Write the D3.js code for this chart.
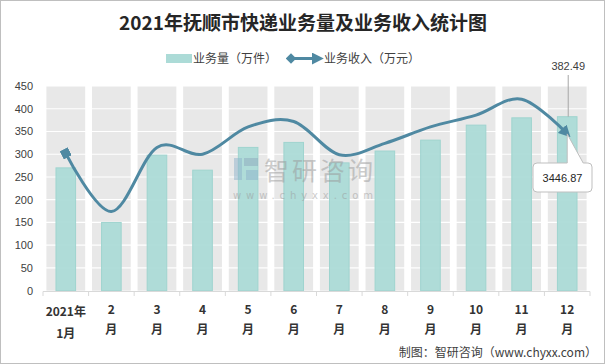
<!DOCTYPE html>
<html><head><meta charset="utf-8">
<script src="https://cdn.jsdelivr.net/npm/d3@7"></script>
<style>body{margin:0;background:#fff}svg{display:block}</style>
</head><body>
<svg id="c" width="605" height="364"></svg>
<script>
const categories = ["1","2","3","4","5","6","7","8","9","10","11","12"];
const labelTop = ["2021年","2","3","4","5","6","7","8","9","10","11","12"];
const labelBottom = ["1月","月","月","月","月","月","月","月","月","月","月","月"];
const volume = [270,150,298,265,315,326,281,307,331,364,380,382.49];
const revenue = [3020,1740,3150,3000,3600,3720,2990,3240,3600,3860,4210,3446.87];
const yTicks = [0,50,100,150,200,250,300,350,400,450];

const svg = d3.select("#c");
const W=605,H=364;
svg.append("rect").attr("x",0.5).attr("y",0.5).attr("width",W-1).attr("height",H-1).attr("fill","#fff").attr("stroke","#bfbfbf");

const x = d3.scaleBand().domain(categories).range([43,590]);
const y = d3.scaleLinear().domain([0,450]).range([290.7,86]);
const y2 = d3.scaleLinear().domain([0,4500]).range([290.7,86]);
const bw = x.bandwidth();

// gray bands
svg.append("g").selectAll("rect").data(categories).join("rect")
  .attr("x",d=>x(d)+bw*0.075).attr("width",bw*0.85)
  .attr("y",y(450)).attr("height",y(0)-y(450)).attr("fill","#e8e8e8");
// white gridlines
svg.append("g").selectAll("line").data(yTicks.slice(1)).join("line")
  .attr("x1",43).attr("x2",590).attr("y1",d=>y(d)).attr("y2",d=>y(d))
  .attr("stroke","#fff").attr("stroke-width",1.2);

// y axis labels
svg.append("g").selectAll("text").data(yTicks).join("text")
  .attr("x",33).attr("y",d=>y(d)+4).attr("text-anchor","end")
  .attr("font-family","Liberation Sans, Arial, sans-serif").attr("font-size",11).attr("fill","#404040")
  .text(d=>d);

// bars
svg.append("g").selectAll("rect").data(volume).join("rect")
  .attr("x",(d,i)=>x(categories[i])+bw/2-bw*0.215).attr("width",bw*0.43)
  .attr("y",d=>y(d)).attr("height",d=>y(0)-y(d))
  .attr("fill","#acdbd7").attr("fill-opacity",0.95).attr("stroke","#9fd4cf").attr("stroke-width",1);

// watermark
const wm = svg.append("g").attr("opacity",0.5);
wm.append("rect").attr("x",234).attr("y",158).attr("width",8).attr("height",22).attr("fill","#8fb3cc");
wm.append("rect").attr("x",244).attr("y",158).attr("width",14).attr("height",8).attr("fill","#8fa9bd");
wm.append("rect").attr("x",246).attr("y",170).attr("width",12).attr("height",10).attr("fill","#8fb3cc");
wm.append("text").attr("x",264).attr("y",180).attr("font-family","Noto Sans CJK SC").attr("font-size",25)
  .attr("fill","#9a9a9a").attr("letter-spacing",3).text("智研咨询");
wm.append("text").attr("x",233).attr("y",199).attr("font-family","DejaVu Sans, sans-serif").attr("font-size",10)
  .attr("fill","#9a9a9a").attr("textLength",140).text("www.chyxx.com");

// x axis
svg.append("line").attr("x1",43).attr("x2",590).attr("y1",291.5).attr("y2",291.5).attr("stroke","#d9d9d9");
svg.append("g").selectAll("line").data(d3.range(13)).join("line")
  .attr("x1",i=>43+i*bw).attr("x2",i=>43+i*bw).attr("y1",291.5).attr("y2",296).attr("stroke","#d9d9d9");
const xl = svg.append("g").attr("font-family","Noto Sans CJK SC, sans-serif").attr("font-weight","bold")
  .attr("font-size",12).attr("fill","#333").attr("text-anchor","middle");
xl.selectAll("text.t").data(labelTop).join("text").attr("class","t")
  .attr("x",(d,i)=>x(categories[i])+bw/2).attr("y",(d,i)=>i===0?316:314).text(d=>d);
xl.selectAll("text.b").data(labelBottom).join("text").attr("class","b")
  .attr("x",(d,i)=>x(categories[i])+bw/2).attr("y",(d,i)=>i===0?338:334).text(d=>d);

// line
const defs = svg.append("defs");
const lc = "#4f89a2";
defs.append("marker").attr("id","arr").attr("viewBox","0 0 10 10").attr("refX",6).attr("refY",5)
  .attr("markerWidth",4).attr("markerHeight",4).attr("orient","auto")
  .append("path").attr("d","M0,0 L10,5 L0,10 Z").attr("fill",lc);
defs.append("marker").attr("id","sq").attr("viewBox","0 0 10 10").attr("refX",5).attr("refY",5)
  .attr("markerWidth",3).attr("markerHeight",3).attr("orient","auto")
  .append("rect").attr("x",0).attr("y",0).attr("width",10).attr("height",10).attr("fill",lc);
defs.append("marker").attr("id","dia").attr("viewBox","0 0 10 10").attr("refX",5).attr("refY",5)
  .attr("markerWidth",3.5).attr("markerHeight",3.5).attr("orient","auto")
  .append("path").attr("d","M0,5 L5,0 L10,5 L5,10 Z").attr("fill",lc);
const pts = revenue.map((v,i)=>[x(categories[i])+bw/2, y2(v)]);
svg.append("path").attr("d",d3.line().curve(d3.curveCardinal.tension(0))(pts))
  .attr("fill","none").attr("stroke",lc).attr("stroke-width",3)
  .attr("marker-start","url(#sq)").attr("marker-end","url(#arr)");

// annotation 382.49
const bx = x("12")+bw/2;
svg.append("line").attr("x1",bx+1).attr("x2",bx+1).attr("y1",75).attr("y2",y(volume[11])).attr("stroke","#a6a6a6");
svg.append("text").attr("x",bx+1).attr("y",70).attr("text-anchor","middle")
  .attr("font-family","Liberation Sans, Arial, sans-serif").attr("font-size",11).attr("fill","#404040").text("382.49");

// callout 3446.87
const tipX = bx, tipY = y2(revenue[11]);
const bx0=533, by0=163, bw0=59, bh0=29, r=4;
const cp = `M${bx0+r},${by0} L${tipX},${by0} L${tipX},${tipY} L${tipX+16},${by0} L${bx0+bw0-r},${by0} Q${bx0+bw0},${by0} ${bx0+bw0},${by0+r} L${bx0+bw0},${by0+bh0-r} Q${bx0+bw0},${by0+bh0} ${bx0+bw0-r},${by0+bh0} L${bx0+r},${by0+bh0} Q${bx0},${by0+bh0} ${bx0},${by0+bh0-r} L${bx0},${by0+r} Q${bx0},${by0} ${bx0+r},${by0} Z`;
svg.append("path").attr("d",cp).attr("fill","#fff").attr("stroke","#bfbfbf");
svg.append("text").attr("x",bx0+bw0/2).attr("y",by0+19).attr("text-anchor","middle")
  .attr("font-family","Liberation Sans, Arial, sans-serif").attr("font-size",11).attr("fill","#262626").text("3446.87");

// title
svg.append("text").attr("x",303).attr("y",30).attr("text-anchor","middle")
  .attr("font-family","Noto Sans CJK SC, serif").attr("font-weight","bold").attr("font-size",19).attr("fill","#262626")
  .text("2021年抚顺市快递业务量及业务收入统计图");

// legend
const lg = svg.append("g").attr("font-family","Noto Sans CJK SC, sans-serif").attr("font-size",12).attr("fill","#404040");
lg.append("rect").attr("x",166).attr("y",54).attr("width",26).attr("height",9).attr("fill","#acdbd7");
lg.append("text").attr("x",193).attr("y",63).text("业务量（万件）");
lg.append("line").attr("x1",291).attr("x2",319).attr("y1",58.5).attr("y2",58.5).attr("stroke",lc).attr("stroke-width",3)
  .attr("marker-start","url(#dia)").attr("marker-end","url(#arr)");
lg.append("text").attr("x",324).attr("y",63).text("业务收入（万元）");

// footer
svg.append("text").attr("x",597).attr("y",357).attr("text-anchor","end")
  .attr("font-family","Noto Sans CJK SC, sans-serif").attr("font-size",12).attr("fill","#404040")
  .text("制图：智研咨询（www.chyxx.com）");
</script>
</body></html>
